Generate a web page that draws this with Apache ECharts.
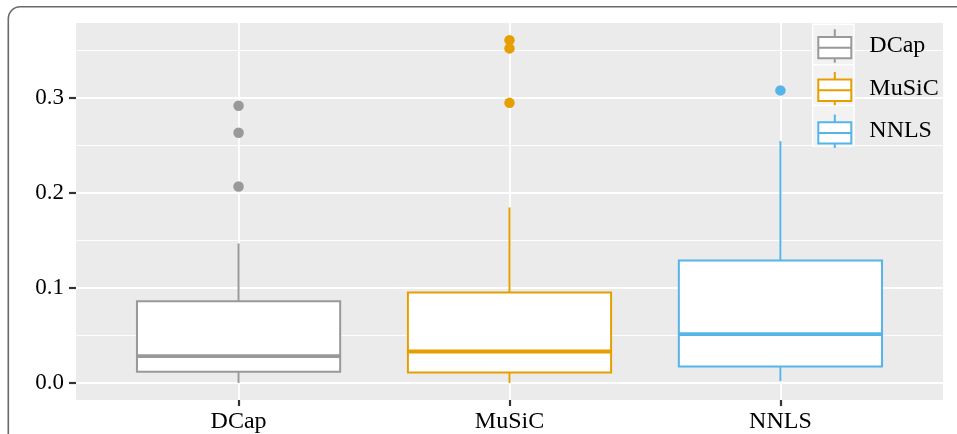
<!DOCTYPE html>
<html>
<head>
<meta charset="utf-8">
<script src="https://cdn.jsdelivr.net/npm/echarts@6/dist/echarts.min.js"></script>
<style>
  html, body { margin: 0; padding: 0; background: #ffffff; }
  #chart { width: 957px; height: 434px; }
</style>
</head>
<body>
<div id="chart"></div>
<script>
// Methods compared and their colours
const methods = ['DCap', 'MuSiC', 'NNLS'];
const methodColors = ['#999999', '#E69F00', '#56B4E9'];

// Five-number summaries per method: [lower whisker, Q1, median, Q3, upper whisker]
const dcapBox = [0.0000, 0.0116, 0.0281, 0.0860, 0.1467];
const musicBox = [0.0000, 0.0109, 0.0330, 0.0951, 0.1846];
const nnlsBox = [0.0018, 0.0173, 0.0513, 0.1288, 0.2544];

// Points beyond the whiskers
const dcapOutliers = [0.2916, 0.2632, 0.2067];
const musicOutliers = [0.3607, 0.3520, 0.2947];
const nnlsOutliers = [0.3078];

// Labelled y ticks
const yTicks = [0.0, 0.1, 0.2, 0.3];

const boxes = [dcapBox, musicBox, nnlsBox];
const outliers = [dcapOutliers, musicOutliers, nnlsOutliers];

// Panel geometry (pixels)
const W = 957, H = 434;
const panel = { left: 76, right: 943, top: 23, bottom: 400 };

// y range: data range padded by 5% on both sides
const allVals = boxes.flat().concat(outliers.flat());
const dLo = Math.min(...allVals), dHi = Math.max(...allVals);
const yMin = dLo - 0.05 * (dHi - dLo);
const yMax = dHi + 0.05 * (dHi - dLo);
const yPx = v => panel.bottom - (v - yMin) / (yMax - yMin) * (panel.bottom - panel.top);

// x range: discrete positions padded by 0.6 on each side
const nCat = methods.length;
const xPx = i => panel.left + (i + 0.6) / (nCat - 1 + 1.2) * (panel.right - panel.left);

const FONT = 'Liberation Serif';
const tickStep = yTicks[1] - yTicks[0];
const majorTop = yTicks[yTicks.length - 1];
const minorTop = majorTop + tickStep;

const hiddenValueAxis = (gridIndex, min, max) => ({
  type: 'value', gridIndex, min, max, show: false,
  splitLine: { show: false }
});

function renderBox(params, api) {
  const i = api.value(0);
  const pMin = api.coord([i, api.value(1)]);
  const pQ1 = api.coord([i, api.value(2)]);
  const pMed = api.coord([i, api.value(3)]);
  const pQ3 = api.coord([i, api.value(4)]);
  const pMax = api.coord([i, api.value(5)]);
  const band = api.size([1, 0])[0];
  const half = band * 0.75 / 2;
  const cx = pMed[0];
  const col = methodColors[params.seriesIndex];
  const lw = 2;
  return {
    type: 'group',
    children: [
      { type: 'line', shape: { x1: cx, y1: pMax[1], x2: cx, y2: pQ3[1] },
        style: { stroke: col, lineWidth: lw } },
      { type: 'line', shape: { x1: cx, y1: pQ1[1], x2: cx, y2: pMin[1] },
        style: { stroke: col, lineWidth: lw } },
      { type: 'rect', shape: { x: cx - half, y: pQ3[1], width: 2 * half, height: pQ1[1] - pQ3[1] },
        style: { fill: '#ffffff', stroke: col, lineWidth: lw } },
      { type: 'line', shape: { x1: cx - half, y1: pMed[1], x2: cx + half, y2: pMed[1] },
        style: { stroke: col, lineWidth: 3.8 } }
    ]
  };
}

const boxGlyph = 'path://M16.5,0L16.5,7.7M0,7.7L33,7.7L33,29L0,29ZM0,18.4L33,18.4M16.5,29L16.5,33.4';

const series = [];
methods.forEach((m, i) => {
  series.push({
    type: 'custom',
    name: m,
    xAxisIndex: 3, yAxisIndex: 3,
    renderItem: renderBox,
    itemStyle: { color: '#ffffff', borderColor: methodColors[i], borderWidth: 2 },
    encode: { x: 0, y: [1, 2, 3, 4, 5] },
    data: [[i].concat(boxes[i])],
    z: 3
  });
});
methods.forEach((m, i) => {
  series.push({
    type: 'scatter',
    name: m + ' outliers',
    xAxisIndex: 3, yAxisIndex: 3,
    symbol: 'circle',
    symbolSize: 10.5,
    itemStyle: { color: methodColors[i], opacity: 1 },
    data: outliers[i].map(v => [i, v]),
    z: 4
  });
});

// legend key backgrounds
const keyX = 812.7, keyW = 41.3, keyTop = 24.3, keyH = 40.6;
const legendGraphics = methods.map((m, i) => ({
  type: 'rect',
  shape: { x: keyX, y: keyTop + i * keyH, width: keyW, height: keyH },
  style: { fill: '#F2F2F2', stroke: '#ffffff', lineWidth: 1.4 },
  z: 2
}));

const option = {
  backgroundColor: '#ffffff',
  animation: false,
  graphic: [
    { type: 'rect', shape: { x: 8.3, y: 6.7, width: 1000, height: 600, r: 12 },
      style: { fill: 'none', stroke: '#6a6a6a', lineWidth: 1.6 }, z: 10, silent: true }
  ].concat(legendGraphics),
  legend: {
    data: methods.map(m => ({ name: m, icon: boxGlyph })),
    orient: 'vertical',
    left: 817.3,
    top: 28.3,
    padding: 0,
    itemWidth: 33,
    itemHeight: 33.4,
    itemGap: 7.2,
    selectedMode: false,
    itemStyle: { borderWidth: 2 },
    textStyle: { fontFamily: FONT, fontSize: 24, color: '#000000', padding: [3, 0, 0, 13] },
    z: 5
  },
  grid: [
    // panel background
    { left: panel.left, right: W - panel.right, top: panel.top, bottom: H - panel.bottom,
      show: true, backgroundColor: '#EBEBEB', borderWidth: 0 },
    // minor horizontal lines
    { left: panel.left, right: W - panel.right, top: yPx(minorTop), bottom: H - yPx(0) },
    // major horizontal lines with labels
    { left: panel.left, right: W - panel.right, top: yPx(majorTop), bottom: H - yPx(0) },
    // data grid spanning the category centres
    { left: xPx(0), right: W - xPx(nCat - 1), top: panel.top, bottom: H - panel.bottom }
  ],
  xAxis: [
    hiddenValueAxis(0, 0, 1),
    hiddenValueAxis(1, 0, 1),
    hiddenValueAxis(2, 0, 1),
    {
      type: 'category', gridIndex: 3, data: methods, boundaryGap: false,
      axisLine: { show: false, onZero: false },
      axisTick: { show: true, length: 6, lineStyle: { color: '#333333', width: 2.2 } },
      axisLabel: { fontFamily: FONT, fontSize: 24, color: '#000000', margin: 10 },
      splitLine: { show: true, lineStyle: { color: '#ffffff', width: 1.8 } }
    }
  ],
  yAxis: [
    hiddenValueAxis(0, yMin, yMax),
    {
      type: 'value', gridIndex: 1, min: 0, max: minorTop, interval: tickStep,
      axisLine: { show: false }, axisTick: { show: false }, axisLabel: { show: false },
      splitLine: { show: false },
      minorTick: { show: false, splitNumber: 2 },
      minorSplitLine: { show: true, lineStyle: { color: '#ffffff', width: 0.9 } }
    },
    {
      type: 'value', gridIndex: 2, min: 0, max: majorTop, interval: tickStep,
      axisLine: { show: false },
      axisTick: { show: true, length: 7, lineStyle: { color: '#333333', width: 2.2 } },
      axisLabel: { fontFamily: FONT, fontSize: 23, color: '#000000', margin: 12,
                   formatter: v => v.toFixed(1) },
      splitLine: { show: true, lineStyle: { color: '#ffffff', width: 1.8 } }
    },
    hiddenValueAxis(3, yMin, yMax)
  ],
  series: series
};

const chart = echarts.init(document.getElementById('chart'), null, { renderer: 'canvas' });
chart.setOption(option);
</script>
</body>
</html>
